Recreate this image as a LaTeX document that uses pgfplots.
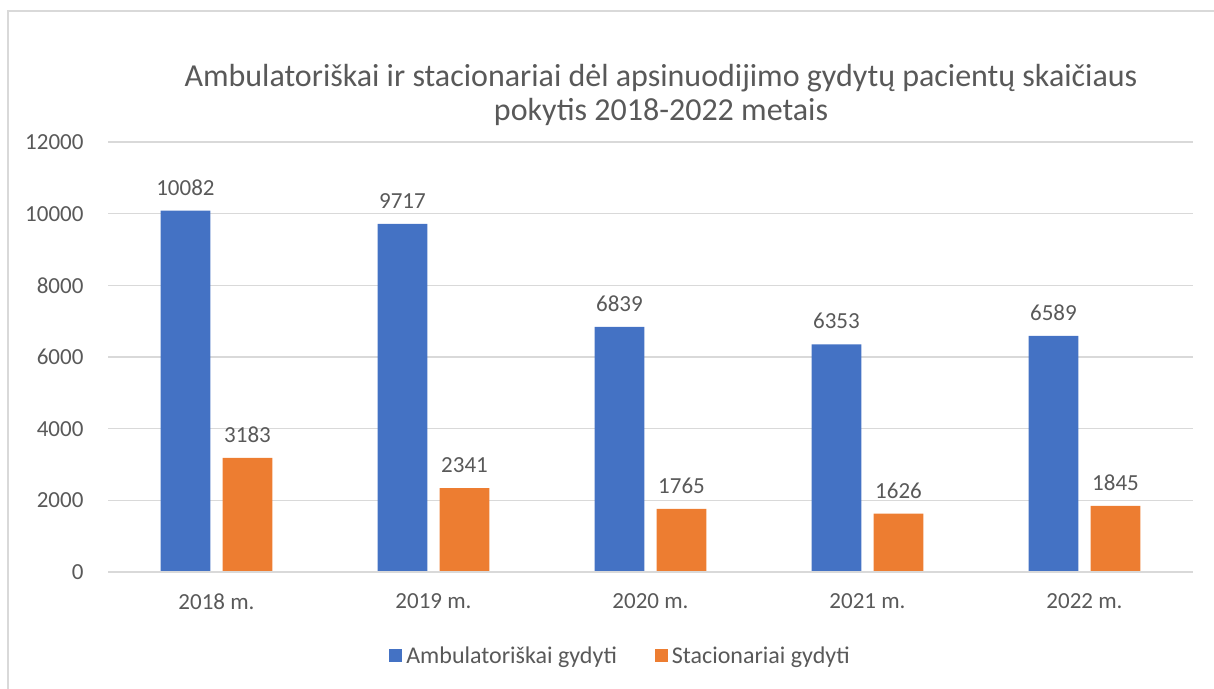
\documentclass[border=0pt]{standalone}
\usepackage{pgfplots}
\pgfplotsset{compat=1.18}
\usepackage{fontspec}
\setmainfont{Carlito}
\definecolor{blueA}{HTML}{4472C4}
\definecolor{orangeS}{HTML}{ED7D31}
\definecolor{txt}{HTML}{595959}
\definecolor{gridc}{HTML}{D9D9D9}
\begin{document}
\begin{tikzpicture}[x=1pt,y=1pt]
\path[use as bounding box] (0,0) rectangle (1214,688);
\draw[gridc, line width=1.5pt] (8,-10) -- (8,677) -- (1230,677);
\node[text=txt, font=\fontsize{32}{34}\selectfont, align=center] at (661,593) {Ambulatoriškai ir stacionariai dėl apsinuodijimo gydytų pacientų skaičiaus\\pokytis 2018-2022 metais};
\begin{axis}[
  at={(108pt,116pt)}, anchor=south west,
  scale only axis, width=1085pt, height=430pt,
  ymin=0, ymax=12000, ytick={0,2000,...,12000},
  xmin=-0.5, xmax=4.5, xtick={0,1,2,3,4},
  xticklabels={2018 m.,2019 m.,2020 m.,2021 m.,2022 m.},
  ybar, bar width=0.23,
  axis line style={draw=none},
  ymajorgrids, grid style={gridc, line width=1.5pt},
  major tick length=0pt,
  tick label style={text=txt, font=\fontsize{23}{28}\selectfont},
  /pgf/number format/assume math mode=true,
  /pgf/number format/1000 sep={},
  /pgf/number format/fixed,
  scaled y ticks=false,
  yticklabel style={xshift=-21pt},
  xticklabel style={yshift=-18pt},
  nodes near coords,
  every node near coord/.append style={text=txt, font=\fontsize{23}{28}\selectfont, yshift=12pt},
  legend style={at={(0.4724,-0.195)}, anchor=center, draw=none, legend columns=2, font=\fontsize{24}{28}\selectfont, text=txt, /tikz/every even column/.append style={column sep=36pt}},
  legend image code/.code={\fill[#1] (0pt,-6.5pt) rectangle (13pt,6.5pt);},
  legend cell align=left,
  clip=false,
]
\addplot[fill=blueA, draw=none, bar shift=-0.143] coordinates {(0,10082) (1,9717) (2,6839) (3,6353) (4,6589)};
\addplot[fill=orangeS, draw=none, bar shift=0.143] coordinates {(0,3183) (1,2341) (2,1765) (3,1626) (4,1845)};
\draw[gridc, line width=1.5pt] (axis cs:-0.5,0) -- (axis cs:4.5,0);
\legend{\hspace{2pt}Ambulatoriškai gydyti, \hspace{2pt}Stacionariai gydyti}
\end{axis}
\end{tikzpicture}
\end{document}
